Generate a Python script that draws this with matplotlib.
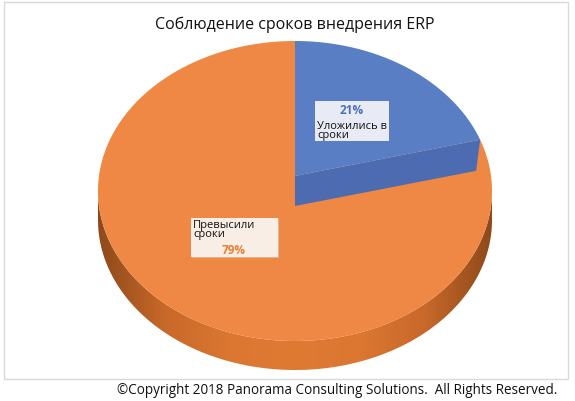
import matplotlib
matplotlib.use('Agg')
import matplotlib.pyplot as plt
from matplotlib.patches import Polygon, Rectangle
from matplotlib.colors import LinearSegmentedColormap
import numpy as np

# data
categories = ['Уложились в\nсроки', 'Превысили\nсроки']
shares = [21, 79]
colors_top = ['#5A7EC4', '#EE8844']
color_face = '#4C6BB0'

title = 'Соблюдение сроков внедрения ERP'
copyright_text = '©Copyright 2018 Panorama Consulting Solutions.  All Rights Reserved.'

plt.rcParams['font.family'] = ['Open Sans', 'DejaVu Sans']

fig = plt.figure(figsize=(5.75, 4.02), dpi=100)
ax = fig.add_axes([0, 0, 1, 1])
ax.set_xlim(0, 575)
ax.set_ylim(402, 0)
ax.axis('off')

# pie geometry (pixel units), a tilted ellipse with perspective vertex
cx, cy = 295, 192
ra, rb = 197, 150
vx, vy = 295, 177
depth = 29
v = (vy - cy) / rb


def rim(t):
    # point on the top rim for angle t (clockwise from 12 o'clock)
    s = v * np.cos(t) + np.sqrt(v**2 * np.cos(t)**2 - v**2 + 1)
    return cx + ra * s * np.sin(t), cy + rb * (v - s * np.cos(t))


# side of the pie (front half) with a shaded gradient
phi = np.linspace(np.pi / 2, 3 * np.pi / 2, 300)
sx = cx + ra * np.sin(phi)
sy = cy - rb * np.cos(phi)
side_pts = list(zip(sx, sy)) + list(zip(sx[::-1], sy[::-1] + depth))
side = Polygon(side_pts, closed=True, facecolor='none', edgecolor='none')
ax.add_patch(side)
shade = LinearSegmentedColormap.from_list(
    'side', ['#8E4A1A', '#C8682A', '#DB7731', '#DF7A33', '#DB7731', '#C8682A', '#8E4A1A'])
grad = np.linspace(0, 1, 400).reshape(1, -1)
img = ax.imshow(grad, cmap=shade, aspect='auto',
                extent=(cx - ra, cx + ra, cy + rb + depth + 2, cy - 5), zorder=1)
img.set_clip_path(side)

# slice angles from data
fracs = np.array(shares) / sum(shares)
bounds = np.concatenate([[0], np.cumsum(fracs)]) * 2 * np.pi

# orange top wedge
t = np.linspace(bounds[1], bounds[2], 300)
px, py = rim(t)
pts = [(vx, vy)] + list(zip(px, py))
ax.add_patch(Polygon(pts, closed=True, facecolor=colors_top[1], edgecolor='none', zorder=2))

# blue radial face (visible cut)
ex, ey = rim(bounds[1])
face = [(vx, vy), (ex, ey), (ex - 4, ey + 31), (vx, vy + 30)]
ax.add_patch(Polygon(face, closed=True, facecolor=color_face, edgecolor='none', zorder=3))

# blue top wedge
t = np.linspace(bounds[0], bounds[1], 200)
px, py = rim(t)
pts = [(vx, vy)] + list(zip(px, py))
ax.add_patch(Polygon(pts, closed=True, facecolor=colors_top[0], edgecolor='none', zorder=3))

# data labels
ax.add_patch(Rectangle((315, 102), 74, 40, facecolor='#E8EBF5', edgecolor='none', zorder=4))
ax.text(352, 110, f'{shares[0]}%', ha='center', va='center', fontsize=8.5,
        fontweight='bold', color='#4A70BE', zorder=5)
ax.text(317, 131, categories[0], ha='left', va='center', fontsize=8,
        linespacing=0.85, color='#111111', zorder=5)

ax.add_patch(Rectangle((192, 220), 87, 39, facecolor='#E2B38F', edgecolor='none', zorder=4))
ax.add_patch(Rectangle((191, 219), 87, 39, facecolor='#F8EEE5', edgecolor='none', zorder=4))
ax.text(193, 230, categories[1], ha='left', va='center', fontsize=8,
        linespacing=0.85, color='#111111', zorder=5)
ax.text(234, 251, f'{shares[1]}%', ha='center', va='center', fontsize=8.5,
        fontweight='bold', color='#ED7D31', zorder=5)

# title, frame and footer
ax.text(295, 25, title, ha='center', va='center', fontsize=11.5, color='#111111')
ax.add_patch(Rectangle((4, 3), 564, 377, facecolor='none', edgecolor='#D9D9D9', lw=1))
ax.text(557, 391, copyright_text, ha='right', va='center', fontsize=9.75, color='#111111')

fig.savefig('out.png', dpi=100)
